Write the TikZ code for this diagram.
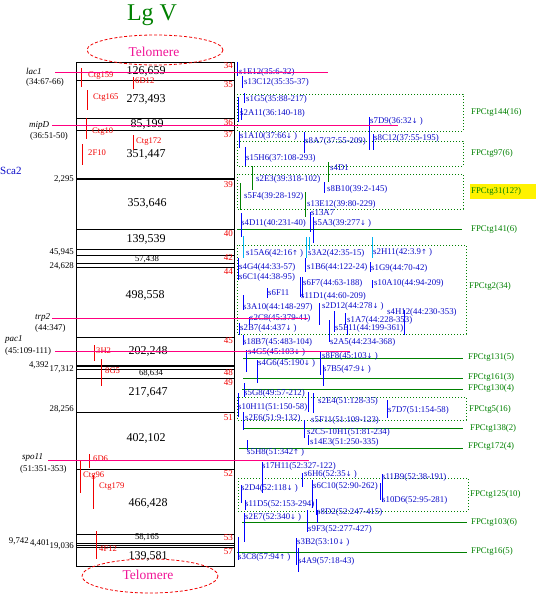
\documentclass[tikz,border=0pt]{standalone}
\usepackage{fontspec}
\setmainfont{Liberation Serif}
\newfontfamily\arrfont{DejaVu Sans}
\newcommand\mydn{{\arrfont\fontsize{7}{7}\selectfont ↓}}
\newcommand\myup{{\arrfont\fontsize{7}{7}\selectfont ↑}}
\definecolor{labblue}{RGB}{10,10,200}
\definecolor{lineblue}{RGB}{0,0,255}
\definecolor{fpgreen}{RGB}{0,128,0}
\definecolor{pinkl}{RGB}{255,0,128}
\definecolor{telo}{RGB}{240,20,150}
\definecolor{cyanl}{RGB}{0,176,240}
\definecolor{redl}{RGB}{240,0,0}
\begin{document}
\begin{tikzpicture}[x=1pt,y=-1pt,
  lbl/.style={font=\fontsize{8.8}{9}\selectfont, text=labblue, anchor=west, inner sep=0pt},
  fpl/.style={font=\fontsize{8.8}{9}\selectfont, text=fpgreen, anchor=west, inner sep=0pt},
  rnum/.style={font=\fontsize{9}{9}\selectfont, text=redl, anchor=east, inner sep=0pt},
  ctg/.style={font=\fontsize{8.6}{9}\selectfont, text=redl, anchor=west, inner sep=0pt},
  bignum/.style={font=\fontsize{12}{12}\selectfont, inner sep=0pt},
  smallnum/.style={font=\fontsize{8.7}{9}\selectfont, inner sep=0pt},
  lnum/.style={font=\fontsize{8.8}{9}\selectfont, anchor=east, inner sep=0pt},
  gene/.style={font=\itshape\fontsize{9}{9}\selectfont, anchor=west, inner sep=0pt},
  genepos/.style={font=\fontsize{8.8}{9}\selectfont, anchor=west, inner sep=0pt},
  bline/.style={draw=lineblue, line width=1pt},
  gline/.style={draw=fpgreen, line width=1pt},
  cline/.style={draw=cyanl, line width=1pt},
  pline/.style={draw=pinkl, line width=1pt},
  rline/.style={draw=redl, line width=1pt},
  dbox/.style={draw=fpgreen, dotted, line width=1pt},
  boxl/.style={draw=black, line width=0.9pt},
  telobox/.style={draw=redl, dash pattern=on 3pt off 2pt, line width=0.8pt},
]
\useasboundingbox (0,0) rectangle (536,594);

% title
\node[font=\fontsize{24}{24}\selectfont, text=fpgreen, inner sep=0pt] (title) at (152,15) {Lg V};

% main chromosome box
\draw[boxl] (76,62) rectangle (234,566);
\foreach \yy in {80,118,130,229,249,255,263,267,337,369,378,412,469,534,543,545,547}
  \draw[boxl] (76,\yy) -- (234,\yy);
\draw[draw=black, line width=2pt] (76,179) -- (234,179);
\draw[draw=black, line width=2pt] (76,366) -- (234,366);

% telomeres
\draw[telobox] (155,50) ellipse [x radius=68, y radius=15];
\draw[telobox] (150,576) ellipse [x radius=68, y radius=17];
\node[font=\fontsize{13.5}{14}\selectfont, text=telo, inner sep=0pt] (telotop) at (154,52) {Telomere};
\node[font=\fontsize{13.5}{14}\selectfont, text=telo, inner sep=0pt] (telobot) at (148,575) {Telomere};

% sizes in box
\foreach \x/\y/\t [count=\i] in {146/71/{126,659},146/99/{273,493},147/124/{85,199},146/154/{351,447},147/203/{353,646},146/239/{139,539},145/295/{498,558},148/351/{202,248},148/392/{217,647},146/438/{402,102},148/503/{466,428},148/556/{139,581}}
  \node[bignum] (sz\i) at (\x,\y) {\t};
\foreach \x/\y/\t [count=\i] in {147/259/{57,438},151/373/{68,634},147/537/{58,165}}
  \node[smallnum] (ss\i) at (\x,\y) {\t};

% red bin numbers
\foreach \y/\t [count=\i] in {66/34,85/35,123/36,135/37,185/39,234/40,258/42,272/44,341/45,373/48,383/49,418/51,474/52,538/53,552/57}
  \node[rnum] (rn\i) at (233,\y) {\t};

% left numbers
\node[lnum] (l1) at (74,179) {2,295};
\node[lnum] (l2) at (74,252) {45,945};
\node[lnum] (l3) at (74,266) {24,628};
\node[lnum] (l4) at (49,365) {4,392};
\node[lnum] (l5) at (74,369) {17,312};
\node[lnum] (l6) at (74,409) {28,256};
\node[lnum] (l7) at (29,541) {9,742};
\node[lnum] (l8) at (50,543) {4,401};
\node[lnum] (l9) at (74,546) {19,036};
\node[font=\fontsize{11}{11}\selectfont, text=labblue, anchor=west, inner sep=0pt] (sca) at (0,171) {Sca2};

% gene labels
\node[gene] (g1) at (26,71) {lac1};
\node[genepos] (g1p) at (26,82) {(34:67-66)};
\node[gene] (g2) at (29,125) {mipD};
\node[genepos] (g2p) at (30,136) {(36:51-50)};
\node[gene] (g3) at (35,317) {trp2};
\node[genepos] (g3p) at (35,328) {(44:347)};
\node[gene] (g4) at (5,339) {pac1};
\node[genepos] (g4p) at (5,351) {(45:109-111)};
\node[gene] (g5) at (22,457) {spo11};
\node[genepos] (g5p) at (20,469) {(51:351-353)};

% red contig markers
\foreach \x/\ya/\yb [count=\i] in {81/68/87,133/77/89,87/90/110,86/118/139,133/135/150,82/144/165,94/345/361,101/359/386,89/454/468,80/460/493,93/475/509,96/531/559}
  \draw[rline] (\x,\ya) -- (\x,\yb);
\foreach \x/\y/\t [count=\i] in {88/76/Ctg159,135/81/6D12,93/98/Ctg165,92/132/Ctg10,136/142/Ctg172,88/153/2F10,96/351/3H2,105/371/8G5,93/459/6D6,83/476/Ctg96,99/487/Ctg179,99/549/4F12}
  \node[ctg] (ct\i) at (\x,\y) {\t};

% dotted FP boxes
\draw[dbox] (237,94) rectangle (463,131);
\draw[dbox] (237,141) rectangle (463,166);
\draw[dbox] (237,174) rectangle (463,209);
\draw[dbox] (237,245) rectangle (466,334);
\draw[dbox] (237,397) rectangle (466,420);
\draw[dbox] (238,478) rectangle (468,511);

% solid FP lines
\foreach \y/\xa/\xb in {229/237/462,358/243/463,378/243/463,389/242/463,428/243/463,448/239/463,522/242/467,552/237/467}
  \draw[gline] (\xa,\y) -- (\xb,\y);

% yellow highlight
\fill[yellow] (470,184) rectangle (536,199);

% FP labels
\foreach \x/\y/\t [count=\i] in {471/112/FPCtg144(16),471/153/FPCtg97(6),471/191/FPCtg31(12?),471/229/FPCtg141(6),469/286/FPCtg2(34),468/357/FPCtg131(5),468/377/FPCtg161(3),468/388/FPCtg130(4),469/409/FPCtg5(16),470/428/FPCtg138(2),468/446/FPCtg172(4),470/494/FPCtg125(10),471/522/FPCtg103(6),471/551/FPCtg16(5)}
  \node[fpl] (fp\i) at (\x,\y) {\t};

% blue vertical lines
\foreach \x/\ya/\yb in {237/62/76,242/76/88,244/93/103,238/97/122,241/108/120,239/132/148,245/147/166,304/132/153,369/117/150,373/134/150,241/213/237,310/212/232,313/217/243,238/258/280,305/258/272,370/262/272,300/277/297,302/277/297,267/288/298,372/280/288,243/295/310,319/303/325,329/320/342,334/311/332,345/313/325,347/325/335,404/310/335,249/317/325,239/323/335,243/335/345,246/350/372,257/360/383,320/352/375,323/365/386,244/383/397,238/393/417,308/392/412,313/393/413,387/400/418,243/412/430,304/420/438,308/435/445,247/440/450,262/462/493,302/473/487,312/480/508,382/474/502,380/483/500,241/485/503,245/500/510,316/499/515,244/513/542,307/510/532,317/510/523,238/537/560,296/538/565,298/548/572}
  \draw[bline] (\x,\ya) -- (\x,\yb);
% green vertical lines
\foreach \x/\ya/\yb in {252/166/190,328/162/182,240/183/210,305/192/217}
  \draw[gline] (\x,\ya) -- (\x,\yb);
\draw[bline] (324,182) -- (324,193);
% cyan vertical lines
\foreach \x/\ya/\yb in {243/236/258,306/237/258,309/237/250,372/237/258}
  \draw[cline] (\x,\ya) -- (\x,\yb);

% blue labels
\foreach \x/\y/\t [count=\i] in {
239/72/s1E12(35:6-32),
244/82/s13C12(35:35-37),
246/99/s1G5(35:88-217),
240/113/s2A11(36:140-18),
370/121/s7D9(36:32\mydn{} ),
240/136/s1A10(37:66\mydn{} ),
305/141/s8A7(37:55-209),
374/138/s8C12(37:55-195),
246/158/s15H6(37:108-293),
330/168/s4D1,
256/179/s2E3(39:318-102),
244/196/s5F4(39:28-192),
327/189/s8B10(39:2-145),
307/204/s13E12(39:80-229),
311/213/s13A7,
241/223/s4D11(40:231-40),
314/223/s5A3(39:277\mydn{} ),
246/253/s15A6(42:16\myup{} ),
308/253/s3A2(42:35-15),
373/252/s2H11(42:3.9\myup{} ),
239/267/s4G4(44:33-57),
307/267/s1B6(44:122-24),
371/268/s1G9(44:70-42),
239/277/s6C1(44:38-95),
303/283/s6F7(44:63-188),
374/283/s10A10(44:94-209),
268/293/s6F11,
301/296/s11D1(44:60-209),
243/307/s3A10(44:148-297),
322/306/s2D12(44:278\mydn{} ),
387/312/s4H12(44:230-353),
250/318/s2C8(45:379-41),
347/320/s1A7(44:228-353),
240/328/s2B7(44:437\mydn{} ),
335/328/s5E11(44:199-361),
243/342/s18B7(45:483-104),
330/342/s2A5(44:234-368),
248/352/s4G5(45:103\mydn{} ),
322/356/s8F8(45:103\mydn{} ),
258/363/s4G6(45:190\mydn{} ),
323/369/s7B5(47:9\mydn{} ),
244/393/s5G8(49:57-212),
238/407/s10H11(51:150-58),
318/401/s2E4(51:128-35),
388/410/s7D7(51:154-58),
245/418/s2E6(51:9-132),
311/420/s5F11(51:109-123),
307/432/s2C5-10H1(51:81-234),
310/442/s14E3(51:250-335),
247/452/s5H8(51:342\myup{} ),
262/466/s17H11(52:327-122),
304/474/s6H6(52:35\mydn{} ),
382/477/s11B9(52:38-191),
313/486/s6C10(52:90-262),
241/488/s2D4(52:118\mydn{} ),
382/500/s10D6(52:95-281),
245/504/s11D5(52:153-294),
317/512/s8D2(52:247-415),
245/517/s2E7(52:340\mydn{} ),
308/529/s9F3(52:277-427),
297/542/s3B2(53:10\mydn{} ),
238/557/s3C8(57:94\myup{} ),
298/561/s4A9(57:18-43)}
  \node[lbl] (b\i) at (\x,\y) {\t};

% pink marker lines (on top)
\draw[pline] (55,72) -- (328,72);
\draw[pline] (52,125) -- (398,125);
\draw[pline] (52,318) -- (308,318);
\draw[pline] (55,351) -- (350,351);
\draw[pline] (48,460) -- (309,460);
\end{tikzpicture}
\end{document}
